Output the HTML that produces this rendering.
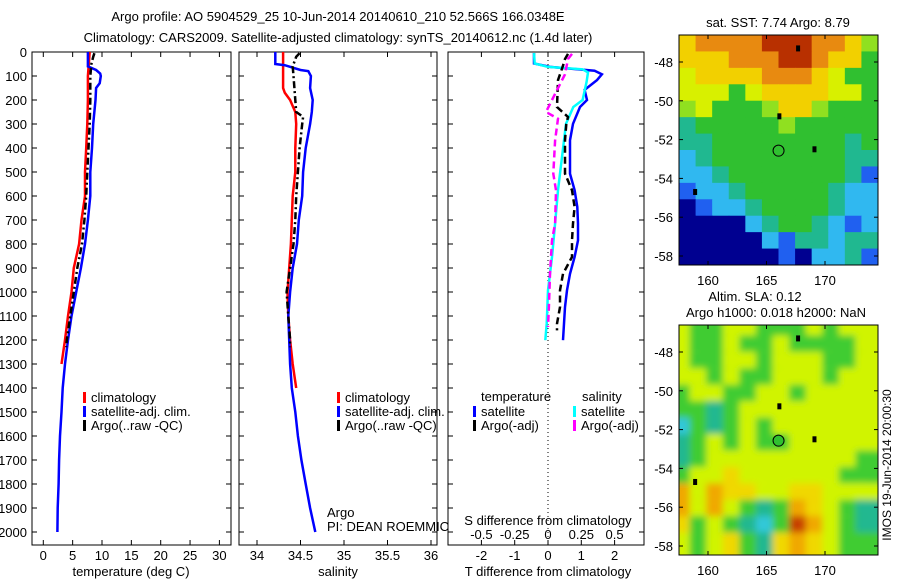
<!DOCTYPE html>
<html><head><meta charset="utf-8"><style>
html,body{margin:0;padding:0;background:#fff;width:900px;height:580px;overflow:hidden}
svg{display:block;font-family:"Liberation Sans",sans-serif;font-size:13px}
</style></head><body>
<svg id="fig" width="900" height="580" viewBox="0 0 900 580">
<defs>
<filter id="blur" x="0" y="0" width="100%" height="100%"><feGaussianBlur stdDeviation="3.5"/></filter>
<clipPath id="c1"><rect x="32" y="52" width="199" height="493"/></clipPath>
<clipPath id="c2"><rect x="239" y="52" width="198" height="493"/></clipPath>
<clipPath id="c3"><rect x="448" y="52" width="196" height="493"/></clipPath>
<clipPath id="cm1"><rect x="679" y="35" width="199" height="230"/></clipPath>
<clipPath id="cm2"><rect x="679" y="325" width="199" height="230"/></clipPath>
</defs>
<text x="338" y="21" text-anchor="middle">Argo profile: AO 5904529_25 10-Jun-2014 20140610_210 52.566S 166.0348E</text>
<text x="338" y="42" text-anchor="middle">Climatology: CARS2009. Satellite-adjusted climatology: synTS_20140612.nc (1.4d later)</text>
<g id="p1"></g>
<g id="p2"></g>
<g id="p3"></g>
<g id="m1"></g>
<g id="m2"></g>
<text transform="translate(891,465) rotate(-90)" text-anchor="middle" font-size="12">IMOS 19-Jun-2014 20:00:30</text>
</svg>
<script>
// ---- data ----
const tClimDepth=[0,100,200,300,400,500,600,700,800,900,1000,1100,1200,1300];
const tClim=[7.9,7.6,7.6,7.5,7.3,7.1,7.1,6.5,6.1,5.2,4.8,4.2,3.7,3.1];
const tSatDepth=[0,60,75,90,100,130,150,200,300,400,500,600,700,800,900,1000,1100,1200,1300,1400,1500,1600,1700,1800,1900,2000];
const tSat=[7.6,7.6,9.0,9.7,9.8,9.6,9.0,8.9,8.5,8.3,8.0,8.0,7.6,7.1,6.4,5.6,4.8,4.2,3.7,3.3,3.1,2.85,2.7,2.6,2.45,2.4];
const tArgoDepth=[5,20,50,100,200,300,400,500,600,700,800,900,1000,1100,1200,1230];
const tArgo=[8.7,8.5,8.2,8.0,8.0,7.9,7.7,7.5,7.3,7.0,6.6,5.8,5.2,4.6,4.0,3.9];
const sClimDepth=[0,150,170,200,250,300,400,500,600,700,800,900,1000,1100,1200,1300,1400];
const sClim=[34.30,34.30,34.32,34.38,34.44,34.45,34.44,34.44,34.41,34.40,34.39,34.37,34.35,34.36,34.38,34.41,34.45];
const sSatDepth=[0,50,55,75,80,100,150,200,250,300,400,500,600,700,800,900,1000,1100,1200,1300,1400,1500,1600,1700,1800,1900,2000];
const sSat=[34.21,34.21,34.32,34.50,34.59,34.62,34.61,34.64,34.63,34.61,34.56,34.53,34.52,34.48,34.46,34.41,34.38,34.36,34.37,34.38,34.40,34.44,34.47,34.51,34.56,34.61,34.67];
const sArgoDepth=[5,20,60,100,200,250,270,300,400,500,600,700,800,900,1000,1100,1200,1230];
const sArgo=[34.49,34.45,34.41,34.42,34.44,34.45,34.53,34.52,34.49,34.47,34.45,34.44,34.42,34.38,34.34,34.36,34.38,34.38];
const dTSatDepth=[4,48,62,78,93,117,158,200,229,299,368,507,576,646,715,785,854,924,993,1063,1132,1201];
const dTSat=[-0.42,-0.42,0.06,1.4,1.62,1.47,1.1,1.17,0.96,0.75,0.66,0.66,0.8,0.88,0.9,0.9,0.8,0.66,0.57,0.51,0.48,0.45];
const dSSatDepth=[4,48,62,72,85,124,200,229,299,438,576,715,854,993,1132,1201];
const dSSat=[-0.105,-0.1,0,0.26,0.30,0.29,0.26,0.19,0.135,0.105,0.075,0.053,0.03,0,-0.01,-0.02];
const dTArgoDepth=[8,29,57,117,229,271,300,368,507,576,646,715,785,854,924,993,1063,1132,1160];
const dTArgo=[0.6,0.51,0.45,0.3,0.27,0.6,0.55,0.51,0.51,0.72,0.8,0.75,0.72,0.72,0.45,0.36,0.36,0.27,0.27];
const dSArgoDepth=[8,29,93,200,250,278,368,507,576,715,785,924,1063,1146];
const dSArgo=[0.18,0.15,0.128,0.03,-0.015,0.075,0.053,0.04,0.06,0.053,0.03,0.015,0.007,0];
const depthTicks=[0,100,200,300,400,500,600,700,800,900,1000,1100,1200,1300,1400,1500,1600,1700,1800,1900,2000];
const tTicks=[0,5,10,15,20,25,30];
const sTicks=[34,34.5,35,35.5,36];
const dTTicks=[-2,-1,0,1,2];
const dSTickLabels=["-0.5","-0.25","0","0.25","0.5"];
const latTicks=[-48,-50,-52,-54,-56,-58];
const lonTicks=[160,165,170];
const argoLon=166.03, argoLat=-52.57;
const sstGrid=["YOOOORRROOYg","YYYOOORROYYG","yYYYYOOOYyGG","yyyGyYYYYyyG","gyGGGgYYgGGG","cGGGGGgGGGGG","ccGGGGGGGGcG","CcGGGGGGGGcc","CCcGGGGGGGcB","BCCcGGGGGcCC","NBCCcGGGGcCC","NNNNCcGGcCBC","NNNNNCBccCcc","NNNNNNBNCCcB"];
const slaGrid=["yGGyyGGGyGyy","yGGyGGyGGGGy","yGGyyGyyyGGy","yyGyGGyyyGyy","GyyGGyyGyyyy","GGcGyyyyyyyy","CGcGyGyyyyyy","cGyGyGGyyyyy","cGyyyyyyyyyG","GyyYyyyyyyGG","OyOYYyyYYyyy","OyOyGcGOYyGc","YGyGcCGROyGc","yGyYGcYOYyGG"];
// ---- helpers ----
const NS="http://www.w3.org/2000/svg";
function mk(parent,tag,attrs){const e=document.createElementNS(NS,tag);for(const k in attrs)e.setAttribute(k,attrs[k]);parent.appendChild(e);return e;}
const yD=d=>52+d*0.24;
const p1x=t=>43.3+t*5.87;
const p2x=s=>257+(s-34)*87;
const p3T=t=>548+t*33.3;
const p3S=s=>548+s*133.2;
function line(g,xs,ds,fx,color,dash,name,clip){
  const pts=xs.map((v,i)=>fx(v).toFixed(1)+","+yD(ds[i]).toFixed(1)).join(" ");
  const a={points:pts,fill:"none",stroke:color,"stroke-width":2.5,"clip-path":"url(#"+clip+")"};
  if(dash)a["stroke-dasharray"]=dash;
  const p=mk(g,"polyline",a);
  
  
}
function panelFrame(g,x0,x1,showY){
  const r=mk(g,"rect",{x:x0,y:52,width:x1-x0,height:493,fill:"#fff",stroke:"#000","stroke-width":1});
  
  
  depthTicks.forEach(d=>{
    mk(g,"line",{x1:x0,x2:x0+5,y1:yD(d),y2:yD(d),stroke:"#000"});
    mk(g,"line",{x1:x1-5,x2:x1,y1:yD(d),y2:yD(d),stroke:"#000"});
    if(showY){const t=mk(g,"text",{x:27,y:yD(d)+5,"text-anchor":"end"});t.textContent=d;
      
      }
  });
}
function xTicks(g,vals,fx,labels){
  vals.forEach((v,i)=>{const x=fx(v);
    mk(g,"line",{x1:x,x2:x,y1:52,y2:57,stroke:"#000"});
    mk(g,"line",{x1:x,x2:x,y1:540,y2:545,stroke:"#000"});
    const t=mk(g,"text",{x:x,y:560,"text-anchor":"middle"});t.textContent=labels?labels[i]:v;
    
    
  });
}
function txt(g,x,y,s,name,anchor){const t=mk(g,"text",{x:x,y:y,"text-anchor":anchor||"start"});t.textContent=s;
  
  return t;}
function legendEntry(g,x,y,color,label){
  mk(g,"rect",{x:x,y:y-10,width:3,height:11,fill:color});
  txt(g,x+8,y,label,'legend-entry');
}
// ---- panel 1 ----
const g1=document.getElementById("p1");
panelFrame(g1,32,231,true);
xTicks(g1,tTicks,p1x);
line(g1,tClim,tClimDepth,p1x,"#f00",null,"temp-climatology-line","c1");
line(g1,tSat,tSatDepth,p1x,"#00f",null,"temp-satellite-line","c1");
line(g1,tArgo,tArgoDepth,p1x,"#000","7,3,2,3","temp-argo-line","c1");
txt(g1,131,576,"temperature (deg C)","x-axis-title","middle");
legendEntry(g1,83,402,"#f00","climatology");
legendEntry(g1,83,416,"#00f","satellite-adj. clim.");
legendEntry(g1,83,430,"#000","Argo(..raw -QC)");
// ---- panel 2 ----
const g2=document.getElementById("p2");
panelFrame(g2,239,437,false);
xTicks(g2,sTicks,p2x);
line(g2,sClim,sClimDepth,p2x,"#f00",null,"sal-climatology-line","c2");
line(g2,sSat,sSatDepth,p2x,"#00f",null,"sal-satellite-line","c2");
line(g2,sArgo,sArgoDepth,p2x,"#000","7,3,2,3","sal-argo-line","c2");
txt(g2,338,576,"salinity","x-axis-title","middle");
legendEntry(g2,337,402,"#f00","climatology");
legendEntry(g2,337,416,"#00f","satellite-adj. clim.");
legendEntry(g2,337,430,"#000","Argo(..raw -QC)");
txt(g2,327,517,"Argo","argo-label");
txt(g2,327,531,"PI: DEAN ROEMMICH","pi-label");
// ---- panel 3 ----
const g3=document.getElementById("p3");
panelFrame(g3,448,644,false);
dTTicks.forEach(v=>{const x=p3T(v);
  mk(g3,"line",{x1:x,x2:x,y1:52,y2:57,stroke:"#000"});
  mk(g3,"line",{x1:x,x2:x,y1:540,y2:545,stroke:"#000"});
  txt(g3,x,560,String(v),"t-tick-label","middle");
});
dSTickLabels.forEach((s,i)=>{txt(g3,p3S(parseFloat(s)),539,s,"s-tick-label","middle");});
mk(g3,"line",{x1:548,x2:548,y1:52,y2:545,stroke:"#000","stroke-dasharray":"1,3"});
line(g3,dTSat,dTSatDepth,p3T,"#00f",null,"tdiff-satellite-line","c3");
line(g3,dSSat,dSSatDepth,p3S,"#0ff",null,"sdiff-satellite-line","c3");
line(g3,dTArgo,dTArgoDepth,p3T,"#000","7,4","tdiff-argo-line","c3");
line(g3,dSArgo,dSArgoDepth,p3S,"#f0f","7,4","sdiff-argo-line","c3");
txt(g3,548,525,"S difference from climatology","s-axis-title","middle");
txt(g3,548,576,"T difference from climatology","t-axis-title","middle");
txt(g3,481,401,"temperature","legend-title");
txt(g3,582,401,"salinity","legend-title");
legendEntry(g3,473,416,"#00f","satellite");
legendEntry(g3,473,430,"#000","Argo(-adj)");
legendEntry(g3,573,416,"#0ff","satellite");
legendEntry(g3,573,430,"#f0f","Argo(-adj)");
// ---- maps ----
const sstCol={R:"#b83000",O:"#e88a10",Y:"#f2d000",y:"#d8f000",g:"#90e020",G:"#30c030",c:"#20b890",C:"#30b8f0",B:"#2060f0",N:"#000090"};
const slaCol={R:"#c84000",O:"#f0a800",Y:"#f0d800",y:"#d0f400",G:"#40cc30",c:"#20b890",C:"#30c8d8"};
function drawMap(id,top,grid,cols,clip,blur,lat48y){
  const g=document.getElementById(id);
  const inner=mk(g,"g",{"clip-path":"url(#"+clip+")"});
  const cg=mk(inner,"g",blur?{filter:"url(#blur)"}:{});
  const cw=199/grid[0].length, ch=230/grid.length;
  grid.forEach((row,r)=>{[...row].forEach((c,k)=>{
    mk(cg,"rect",{x:679+k*cw-(blur?6:0),y:top+r*ch-(blur?6:0),width:cw+(blur?12:0.5),height:ch+(blur?12:0.5),fill:cols[c]});
  });});
  const fr=mk(g,"rect",{x:679,y:top,width:199,height:230,fill:"none",stroke:"#000"});
  
  
  const lonX=l=>708+(l-160)*11.7, latY=l=>lat48y+(-48-l)*19.4;
  latTicks.forEach(l=>{const y=latY(l);
    mk(g,"line",{x1:679,x2:683,y1:y,y2:y,stroke:"#000"});
    mk(g,"line",{x1:874,x2:878,y1:y,y2:y,stroke:"#000"});
    txt(g,673,y+5,String(l),"lat-tick-label","end");});
  lonTicks.forEach(l=>{const x=lonX(l);
    mk(g,"line",{x1:x,x2:x,y1:top,y2:top+4,stroke:"#000"});
    mk(g,"line",{x1:x,x2:x,y1:top+226,y2:top+230,stroke:"#000"});
    txt(g,x,top+250,String(l),"lon-tick-label","middle");});
  const m=mk(g,"circle",{cx:lonX(argoLon),cy:latY(argoLat),r:5.5,fill:"#30c030",stroke:"#000","stroke-width":1});
  
  
  [[167.7,-47.3],[166.1,-50.8],[169.1,-52.5],[158.9,-54.7]].forEach(p=>{
    mk(g,"rect",{x:lonX(p[0])-2,y:latY(p[1])-3,width:4,height:6,fill:"#000"});});
}
drawMap("m1",35,sstGrid,sstCol,"cm1",false,62);
drawMap("m2",325,slaGrid,slaCol,"cm2",true,352);
const gm1=document.getElementById("m1"), gm2=document.getElementById("m2");
txt(gm1,778,27,"sat. SST: 7.74 Argo: 8.79","sst-map-title","middle");
txt(gm2,755,301,"Altim. SLA: 0.12","sla-map-title","middle");
txt(gm2,776,317,"Argo h1000: 0.018 h2000: NaN","sla-map-subtitle","middle");
</script>
</body></html>
